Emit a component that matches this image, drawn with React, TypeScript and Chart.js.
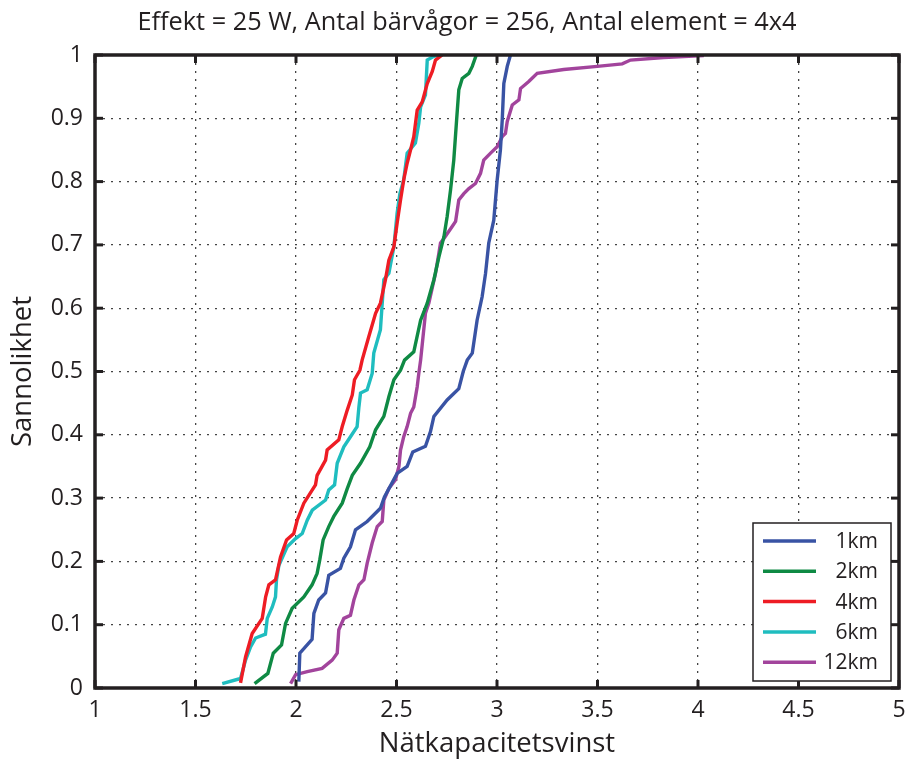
import React, { useEffect, useRef } from "react";
import { Chart, registerables } from "chart.js";
Chart.register(...registerables);

const FONT = "'Open Sans', 'Liberation Sans', Arial, sans-serif";
const INK = "#231f20";

const seriesLabels = ["1km", "2km", "4km", "6km", "12km"];
const seriesColors = ["#3953a4", "#0f8a44", "#ee1c24", "#1fbdbf", "#a2449c"];

const km1X = [2.014, 2.019, 2.08, 2.089, 2.113, 2.147, 2.163, 2.221, 2.238, 2.271, 2.296, 2.354, 2.42, 2.44, 2.503, 2.553, 2.581, 2.644, 2.669, 2.686, 2.752, 2.81, 2.832, 2.852, 2.877, 2.901, 2.926, 2.943, 2.959, 2.984, 3.001, 3.017, 3.026, 3.034, 3.051, 3.067];
const km1Y = [0.01, 0.055, 0.077, 0.118, 0.139, 0.15, 0.178, 0.189, 0.205, 0.223, 0.25, 0.263, 0.284, 0.302, 0.339, 0.35, 0.373, 0.382, 0.405, 0.429, 0.455, 0.473, 0.5, 0.518, 0.529, 0.581, 0.618, 0.655, 0.703, 0.739, 0.803, 0.85, 0.897, 0.955, 0.982, 1.0];

const km2X = [1.794, 1.86, 1.887, 1.928, 1.948, 1.981, 2.039, 2.08, 2.105, 2.118, 2.135, 2.163, 2.188, 2.23, 2.255, 2.28, 2.321, 2.367, 2.396, 2.437, 2.462, 2.487, 2.52, 2.54, 2.586, 2.62, 2.653, 2.686, 2.711, 2.736, 2.752, 2.769, 2.785, 2.799, 2.81, 2.827, 2.86, 2.877, 2.897];
const km2Y = [0.007, 0.023, 0.055, 0.068, 0.102, 0.126, 0.144, 0.163, 0.181, 0.202, 0.234, 0.255, 0.271, 0.292, 0.315, 0.336, 0.355, 0.381, 0.408, 0.429, 0.46, 0.487, 0.502, 0.518, 0.531, 0.581, 0.608, 0.645, 0.681, 0.713, 0.745, 0.787, 0.834, 0.897, 0.945, 0.963, 0.971, 0.982, 1.0];

const km4X = [1.724, 1.749, 1.782, 1.832, 1.849, 1.865, 1.898, 1.923, 1.953, 1.989, 2.006, 2.039, 2.097, 2.105, 2.147, 2.155, 2.213, 2.23, 2.255, 2.28, 2.291, 2.318, 2.329, 2.362, 2.396, 2.42, 2.445, 2.462, 2.487, 2.503, 2.52, 2.536, 2.553, 2.57, 2.586, 2.603, 2.628, 2.653, 2.678, 2.694, 2.727];
const km4Y = [0.008, 0.049, 0.086, 0.11, 0.144, 0.163, 0.171, 0.207, 0.234, 0.244, 0.265, 0.292, 0.321, 0.336, 0.36, 0.376, 0.392, 0.413, 0.439, 0.463, 0.487, 0.502, 0.518, 0.555, 0.592, 0.608, 0.645, 0.676, 0.697, 0.734, 0.771, 0.803, 0.829, 0.85, 0.871, 0.913, 0.926, 0.955, 0.974, 0.992, 1.0];

const km6X = [1.633, 1.724, 1.749, 1.774, 1.799, 1.848, 1.857, 1.882, 1.898, 1.903, 1.915, 1.956, 1.998, 2.031, 2.056, 2.081, 2.147, 2.163, 2.192, 2.205, 2.238, 2.271, 2.304, 2.313, 2.321, 2.354, 2.379, 2.387, 2.42, 2.437, 2.462, 2.487, 2.503, 2.517, 2.536, 2.553, 2.594, 2.611, 2.62, 2.644, 2.653, 2.686, 2.719];
const km6Y = [0.007, 0.015, 0.044, 0.065, 0.079, 0.085, 0.11, 0.128, 0.144, 0.171, 0.194, 0.223, 0.236, 0.244, 0.265, 0.281, 0.297, 0.313, 0.321, 0.355, 0.381, 0.397, 0.413, 0.444, 0.466, 0.471, 0.497, 0.529, 0.566, 0.645, 0.655, 0.697, 0.75, 0.781, 0.803, 0.845, 0.861, 0.892, 0.918, 0.937, 0.992, 0.998, 1.0];

const km12X = [1.973, 1.998, 2.056, 2.13, 2.18, 2.205, 2.213, 2.238, 2.271, 2.288, 2.313, 2.338, 2.354, 2.379, 2.404, 2.429, 2.437, 2.462, 2.495, 2.512, 2.52, 2.536, 2.553, 2.57, 2.586, 2.603, 2.611, 2.62, 2.644, 2.661, 2.694, 2.711, 2.719, 2.736, 2.777, 2.794, 2.81, 2.835, 2.86, 2.893, 2.918, 2.934, 2.968, 3.001, 3.026, 3.042, 3.051, 3.076, 3.109, 3.117, 3.158, 3.2, 3.332, 3.499, 3.623, 3.664, 3.83, 4.029];
const km12Y = [0.007, 0.021, 0.026, 0.031, 0.044, 0.055, 0.092, 0.11, 0.115, 0.139, 0.163, 0.171, 0.197, 0.229, 0.255, 0.263, 0.297, 0.315, 0.329, 0.35, 0.376, 0.397, 0.413, 0.434, 0.444, 0.476, 0.497, 0.518, 0.592, 0.608, 0.655, 0.687, 0.703, 0.71, 0.729, 0.737, 0.771, 0.781, 0.789, 0.797, 0.813, 0.834, 0.845, 0.855, 0.871, 0.876, 0.895, 0.921, 0.929, 0.947, 0.958, 0.971, 0.977, 0.982, 0.986, 0.992, 0.996, 0.999];

const seriesX = [km1X, km2X, km4X, km6X, km12X];
const seriesY = [km1Y, km2Y, km4Y, km6Y, km12Y];

const titleText = "Effekt = 25 W, Antal bärvågor = 256, Antal element = 4x4";
const xTitle = "Nätkapacitetsvinst";
const yTitle = "Sannolikhet";

const fmt = (v: number) => String(Number(Number(v).toFixed(1)));

const boxPlugin = {
  id: "matlabBox",
  afterDraw(chart: any) {
    const { ctx, chartArea: a, scales } = chart;
    ctx.save();
    // title, centred a bit right of the canvas centre as in the reference
    ctx.fillStyle = INK;
    ctx.font = `25.3px ${FONT}`;
    ctx.textAlign = "center";
    ctx.textBaseline = "middle";
    ctx.fillText(titleText, (a.left + a.right) / 2 - 30, a.top - 32);

    ctx.strokeStyle = INK;
    ctx.setLineDash([]);
    ctx.lineWidth = 3;
    const L = 8;
    const seg = (x1: number, y1: number, x2: number, y2: number) => {
      ctx.beginPath();
      ctx.moveTo(x1, y1);
      ctx.lineTo(x2, y2);
      ctx.stroke();
    };
    scales.x.ticks.forEach((t: any) => {
      const px = scales.x.getPixelForValue(t.value);
      seg(px, a.bottom, px, a.bottom - L);
      seg(px, a.top, px, a.top + L);
    });
    scales.y.ticks.forEach((t: any) => {
      const py = scales.y.getPixelForValue(t.value);
      seg(a.left, py, a.left + L, py);
      seg(a.right, py, a.right - L, py);
    });
    ctx.lineWidth = 3.5;
    ctx.strokeRect(a.left, a.top, a.right - a.left, a.bottom - a.top);

    // legend
    const lx = a.right - 146;
    const ly = a.bottom - 165;
    const lw = 138;
    const lh = 158;
    ctx.fillStyle = "#fff";
    ctx.fillRect(lx, ly, lw, lh);
    ctx.lineWidth = 1.5;
    ctx.strokeRect(lx, ly, lw, lh);
    ctx.font = `21px ${FONT}`;
    ctx.textAlign = "right";
    ctx.textBaseline = "middle";
    chart.data.datasets.forEach((ds: any, i: number) => {
      const yy = ly + 18 + i * 30.3;
      ctx.strokeStyle = ds.borderColor;
      ctx.lineWidth = 3.5;
      seg(lx + 10, yy, lx + 63, yy);
      ctx.fillStyle = INK;
      ctx.fillText(ds.label, lx + 125, yy + 1);
    });
    ctx.restore();
  },
};

export default function App() {
  const ref = useRef<HTMLCanvasElement>(null);
  useEffect(() => {
    if (!ref.current) return;
    const datasets = seriesLabels.map((label, i) => ({
      label,
      data: seriesX[i].map((x, j) => ({ x, y: seriesY[i][j] })).filter((p) => p.y !== undefined),
      borderColor: seriesColors[i],
      backgroundColor: seriesColors[i],
      borderWidth: 3.4,
      pointRadius: 0,
      tension: 0,
      fill: false,
    }));
    const chart = new Chart(ref.current, {
      type: "line",
      data: { datasets },
      plugins: [boxPlugin],
      options: {
        animation: false,
        responsive: false,
        layout: { padding: { left: 0, right: 9, top: 55, bottom: 0 } },
        plugins: {
          legend: { display: false },
          tooltip: { enabled: false },
          title: { display: false },
        },
        scales: {
          x: {
            type: "linear",
            min: 1,
            max: 5,
            ticks: { stepSize: 0.5, color: INK, font: { family: FONT, size: 23 }, padding: 9, callback: (v: any) => fmt(v), maxRotation: 0 },
            grid: { color: "#444", lineWidth: 1.3, drawTicks: false },
            border: { display: false, dash: [2, 6] },
            title: { display: true, text: xTitle, color: INK, font: { family: FONT, size: 27.5, lineHeight: 1.2 }, padding: { top: 0, bottom: 2 } },
            afterFit: (s: any) => { s.height = 75; s.paddingLeft = 0; s.paddingRight = 0; },
          },
          y: {
            type: "linear",
            min: 0,
            max: 1,
            ticks: { stepSize: 0.1, color: INK, font: { family: FONT, size: 23 }, padding: 12, callback: (v: any) => fmt(v) },
            grid: { color: "#444", lineWidth: 1.3, drawTicks: false },
            border: { display: false, dash: [2, 6] },
            title: { display: true, text: yTitle, color: INK, font: { family: FONT, size: 27.5, lineHeight: 1.2 }, padding: { top: 7, bottom: 0 } },
            afterFit: (s: any) => { s.width = 95; s.paddingTop = 0; s.paddingBottom = 0; },
          },
        },
      },
    });
    return () => chart.destroy();
  }, []);
  return (
    <div style={{ position: "absolute", left: 0, top: 0, width: 908, height: 763, background: "#fff" }}>
      <canvas ref={ref} width={908} height={763} />
    </div>
  );
}
